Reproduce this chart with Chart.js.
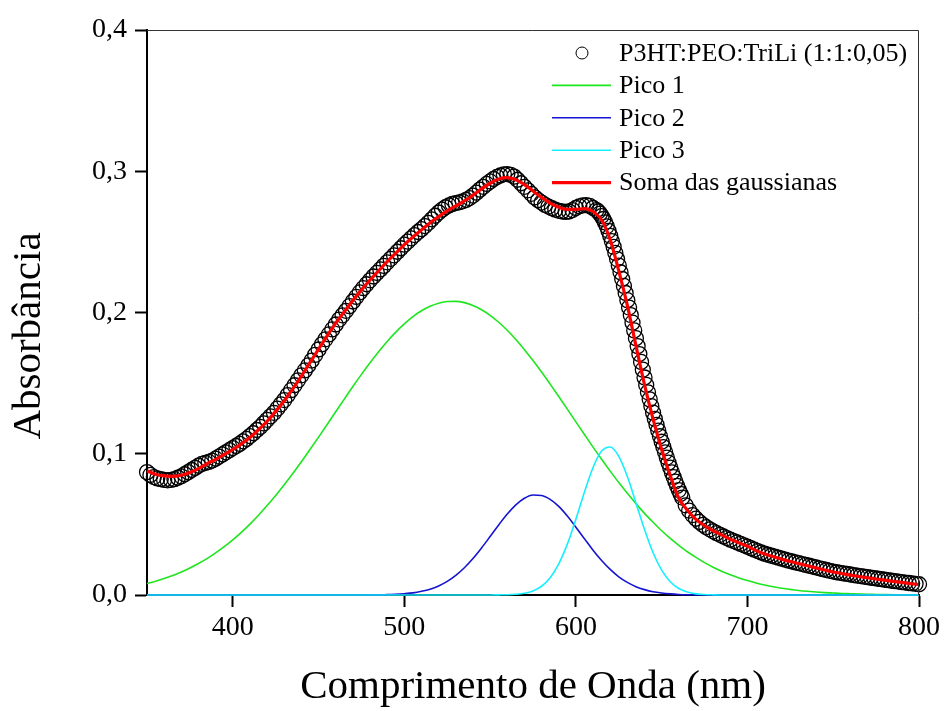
<!DOCTYPE html>
<html>
<head>
<meta charset="utf-8">
<script src="https://cdn.jsdelivr.net/npm/chart.js@4.4.0/dist/chart.umd.min.js"></script>
<style>
  html, body { margin: 0; padding: 0; background: #fff; }
</style>
</head>
<body>
<canvas id="myChart" width="944" height="711"></canvas>
<script>
// Measured spectrum (nm) - 2 nm steps, 1 nm across the steep edge
const wavelengths = [
  350,352,354,356,358,360,362,364,366,368,370,372,374,376,378,380,382,384,386,388,
  390,392,394,396,398,400,402,404,406,408,410,412,414,416,418,420,422,424,426,428,
  430,432,434,436,438,440,442,444,446,448,450,452,454,456,458,460,462,464,466,468,
  470,472,474,476,478,480,482,484,486,488,490,492,494,496,498,500,502,504,506,508,
  510,512,514,516,518,520,522,524,526,528,530,532,534,536,538,540,542,544,546,548,
  550,552,554,556,558,560,562,564,566,568,570,572,574,576,578,580,582,584,586,588,
  590,592,594,596,598,600,602,604,606,608,610,612,
  613,614,615,616,617,618,619,620,621,622,623,624,625,626,627,628,629,630,631,632,
  633,634,635,636,637,638,639,640,641,642,643,644,645,646,647,648,649,650,651,652,
  653,654,655,656,657,658,659,660,661,662,
  664,666,668,670,672,674,676,678,680,682,684,686,688,690,692,694,696,698,700,702,
  704,706,708,710,712,714,716,718,720,722,724,726,728,730,732,734,736,738,740,742,
  744,746,748,750,752,754,756,758,760,762,764,766,768,770,772,774,776,778,780,782,
  784,786,788,790,792,794,796,798,800
];
const absorbance = [
  0.087,0.085,0.0835,0.0825,0.082,0.0815,0.0812,0.0815,0.082,0.083,0.084,0.0855,0.087,0.0885,0.09,0.0915,0.0928,0.0935,0.0942,0.0952,
  0.0965,0.098,0.0995,0.101,0.1025,0.104,0.1055,0.107,0.1088,0.1105,0.1125,0.1145,0.1168,0.119,0.1215,0.124,0.1265,0.129,0.132,0.135,
  0.138,0.1415,0.145,0.1485,0.152,0.1555,0.159,0.1625,0.166,0.17,0.1738,0.1775,0.181,0.1845,0.188,0.1915,0.195,0.198,0.2012,0.2045,
  0.2078,0.211,0.2142,0.2172,0.22,0.2228,0.2255,0.228,0.2305,0.233,0.2355,0.238,0.2405,0.243,0.2455,0.248,0.2502,0.2525,0.2548,0.257,
  0.259,0.2612,0.2635,0.266,0.2685,0.2708,0.2728,0.2745,0.2758,0.2768,0.2775,0.278,0.2787,0.2797,0.281,0.2828,0.2848,0.287,0.289,0.291,
  0.2928,0.2945,0.296,0.297,0.2978,0.298,0.2975,0.2962,0.294,0.2915,0.289,0.2865,0.284,0.2815,0.2795,0.2778,0.2762,0.275,0.2738,0.2728,
  0.272,0.2715,0.2712,0.2715,0.2725,0.274,0.2752,0.2758,0.276,0.2755,0.274,0.2725,
  0.2715,0.27,0.2683,0.2662,0.2638,0.261,0.2578,0.2543,0.2505,0.2465,0.2422,0.2378,0.2332,0.2285,0.2237,0.2188,0.2138,0.2087,0.2035,0.1982,
  0.1928,0.1873,0.1818,0.1762,0.1706,0.165,0.1595,0.154,0.1487,0.1435,0.1385,0.1337,0.1291,0.1247,0.1205,0.1164,0.1124,0.1085,0.1047,0.101,
  0.0973,0.0937,0.0902,0.0868,0.0835,0.0803,0.0772,0.0743,0.0716,0.069,
  0.0635,0.0598,0.0566,0.054,0.0517,0.0497,0.048,0.0465,0.0451,0.0438,0.0426,0.0414,0.0403,0.0392,0.0382,0.0372,0.0362,0.0352,0.0342,0.0331,
  0.0321,0.0311,0.0301,0.0292,0.0285,0.0278,0.0271,0.0264,0.0257,0.025,0.0243,0.0237,0.0231,0.0225,0.0219,0.0213,0.0207,0.0201,0.0195,0.0189,
  0.0183,0.0177,0.0171,0.0166,0.0161,0.0157,0.0153,0.0149,0.0145,0.0141,0.0137,0.0134,0.013,0.0126,0.0122,0.0119,0.0115,0.0112,0.0108,0.0105,
  0.0101,0.0098,0.0095,0.0091,0.0088,0.0085,0.0082,0.0079,0.0076
];

// Fitted curves on a 5 nm grid
const fitNm = [
  350,355,360,365,370,375,380,385,390,395,400,405,410,415,420,425,430,435,440,445,
  450,455,460,465,470,475,480,485,490,495,500,505,510,515,520,525,530,535,540,545,
  550,555,560,565,570,575,580,585,590,595,600,605,610,615,620,625,630,635,640,645,
  650,655,660,665,670,675,680,685,690,695,700,705,710,715,720,725,730,735,740,745,
  750,755,760,765,770,775,780,785,790,795,800
];
const pico1 = [
  0.0082,0.0098,0.0117,0.0138,0.0163,0.0191,0.0223,0.0258,0.0298,0.0342,0.0391,0.0444,0.0502,0.0565,0.0633,0.0705,0.0781,0.086,0.0944,0.103,
  0.1118,0.1207,0.1297,0.1387,0.1476,0.1562,0.1644,0.1722,0.1795,0.1861,0.192,0.1971,0.2012,0.2044,0.2066,0.2078,0.2079,0.207,0.205,0.2019,
  0.198,0.1931,0.1874,0.1809,0.1737,0.166,0.1579,0.1493,0.1405,0.1316,0.1226,0.1136,0.1047,0.0961,0.0877,0.0796,0.072,0.0647,0.0578,0.0515,
  0.0455,0.0401,0.0352,0.0306,0.0266,0.0229,0.0197,0.0168,0.0143,0.0121,0.0102,0.0085,0.0071,0.0059,0.0048,0.004,0.0032,0.0026,0.0021,0.0017,
  0.0014,0.0011,0.0009,0.0007,0.0005,0.0004,0.0003,0.0002,0.0002,0.0001,0.0001
];
const pico2 = [
  0,0,0,0,0,0,0,0,0,0,0,0,0,0,0,0,0,0,0,0,
  0,0,0,0,0,0,0.0001,0.0001,0.0003,0.0005,0.0009,0.0015,0.0026,0.0041,0.0064,0.0096,0.0139,0.0193,0.0258,0.0333,
  0.0414,0.0496,0.0573,0.0638,0.0685,0.0708,0.0705,0.0677,0.0627,0.0559,0.048,0.0398,0.0317,0.0244,0.0181,0.0129,0.0089,0.0059,0.0038,0.0023,
  0.0014,0.0008,0.0004,0.0002,0.0001,0,0,0,0,0,0,0,0,0,0,0,0,0,0,0,
  0,0,0,0,0,0,0,0,0,0,0
];
const pico3 = [
  0,0,0,0,0,0,0,0,0,0,0,0,0,0,0,0,0,0,0,0,
  0,0,0,0,0,0,0,0,0,0,0,0,0,0,0,0,0,0,0,0,
  0,0.0001,0.0002,0.0005,0.0012,0.0029,0.0062,0.0122,0.022,0.036,0.0537,0.0729,0.0903,0.1019,0.1048,0.0982,0.0839,0.0652,0.0463,0.0299,
  0.0176,0.0094,0.0046,0.0021,0.0008,0.0003,0.0001,0,0,0,0,0,0,0,0,0,0,0,0,0,
  0,0,0,0,0,0,0,0,0,0,0
];
const somaGauss = [
  0.088,0.0855,0.0843,0.084,0.0848,0.0868,0.0895,0.093,0.096,0.0995,0.103,0.107,0.1115,0.117,0.123,0.13,0.1375,0.146,0.155,0.1645,
  0.174,0.1835,0.1925,0.2005,0.2085,0.216,0.223,0.2295,0.236,0.242,0.248,0.2535,0.2585,0.2635,0.268,0.272,0.2755,0.279,0.283,0.2875,
  0.2915,0.2945,0.2955,0.294,0.2905,0.286,0.2815,0.2775,0.2745,0.273,0.273,0.2735,0.2715,0.2655,0.2515,0.2295,0.205,0.1765,0.149,0.1245,
  0.103,0.0845,0.0685,0.06,0.0535,0.049,0.0455,0.0425,0.0395,0.037,0.0345,0.0315,0.029,0.0272,0.0254,0.0237,0.0222,0.0207,0.0192,0.0177,
  0.0163,0.0152,0.0141,0.0131,0.0122,0.0113,0.0105,0.0097,0.0089,0.0081,0.0074
];

const seriesLabels = ['P3HT:PEO:TriLi (1:1:0,05)', 'Pico 1', 'Pico 2', 'Pico 3', 'Soma das gaussianas'];

const toPoints = (xs, ys) => xs.map((x, i) => ({ x: x, y: ys[i] }));
const serif = 'Liberation Serif';

// legend box in the upper right corner, axis titles and the thin top/right frame
const framePlugin = {
  id: 'frame',
  afterDraw(chart) {
    const c = chart.ctx;
    const a = chart.chartArea;
    c.save();
    c.strokeStyle = '#333';
    c.lineWidth = 1;
    c.beginPath();
    c.moveTo(a.left, a.top + 0.5);
    c.lineTo(a.right - 0.5, a.top + 0.5);
    c.lineTo(a.right - 0.5, a.bottom);
    c.stroke();

    c.fillStyle = '#000';
    c.font = '41px "' + serif + '"';
    c.textAlign = 'center';
    c.textBaseline = 'middle';
    c.fillText('Comprimento de Onda (nm)', (a.left + a.right) / 2, 687);
    c.save();
    c.translate(29, 336);
    c.rotate(-Math.PI / 2);
    c.fillText('Absorbância', 0, 0);
    c.restore();

    // legend
    c.font = '26px "' + serif + '"';
    c.textAlign = 'left';
    chart.data.datasets.forEach((ds, i) => {
      const y = 53 + i * 32.4;
      if (ds.showLine === false) {
        c.beginPath();
        c.arc(582, y, 6, 0, Math.PI * 2);
        c.lineWidth = 1;
        c.strokeStyle = '#000';
        c.stroke();
      } else {
        c.beginPath();
        c.moveTo(552, y);
        c.lineTo(611, y);
        c.lineWidth = ds.borderWidth;
        c.strokeStyle = ds.borderColor;
        c.stroke();
      }
      c.fillStyle = '#000';
      c.fillText(ds.label, 619, y + 1);
    });
    c.restore();
  }
};

const ctx = document.getElementById('myChart').getContext('2d');
const myChart = new Chart(ctx, {
  type: 'line',
  data: {
    datasets: [
      {
        label: seriesLabels[0],
        data: toPoints(wavelengths, absorbance),
        showLine: false,
        pointRadius: 7.5,
        pointBorderWidth: 1.3,
        pointBorderColor: '#000',
        pointBackgroundColor: 'rgba(0,0,0,0)',
        borderColor: '#000',
        order: 5,
        clip: false
      },
      {
        label: seriesLabels[1],
        data: toPoints(fitNm, pico1),
        borderColor: '#1ee61e',
        borderWidth: 1.6,
        pointRadius: 0,
        cubicInterpolationMode: 'monotone',
        order: 4,
        clip: false
      },
      {
        label: seriesLabels[2],
        data: toPoints(fitNm, pico2),
        borderColor: '#1414d2',
        borderWidth: 1.6,
        pointRadius: 0,
        cubicInterpolationMode: 'monotone',
        order: 3,
        clip: false
      },
      {
        label: seriesLabels[3],
        data: toPoints(fitNm, pico3),
        borderColor: '#14f0ff',
        borderWidth: 1.6,
        pointRadius: 0,
        cubicInterpolationMode: 'monotone',
        order: 2,
        clip: false
      },
      {
        label: seriesLabels[4],
        data: toPoints(fitNm, somaGauss),
        borderColor: '#ff0000',
        borderWidth: 3.2,
        pointRadius: 0,
        cubicInterpolationMode: 'monotone',
        order: 1,
        clip: false
      }
    ]
  },
  options: {
    responsive: false,
    animation: false,
    events: [],
    layout: { padding: { left: 0, top: 30, right: 24, bottom: 0 } },
    plugins: {
      legend: { display: false },
      tooltip: { enabled: false }
    },
    scales: {
      x: {
        type: 'linear',
        min: 350,
        max: 800,
        ticks: {
          stepSize: 100,
          includeBounds: false,
          maxRotation: 0,
          padding: 4,
          color: '#000',
          font: { family: serif, size: 28 }
        },
        grid: { drawOnChartArea: false, tickLength: 12, tickWidth: 2, tickColor: '#000' },
        border: { color: '#000', width: 2 },
        afterFit: (scale) => { scale.height = 116; }
      },
      y: {
        min: 0,
        max: 0.4,
        ticks: {
          stepSize: 0.1,
          padding: 8,
          color: '#000',
          font: { family: serif, size: 28 },
          callback: (v) => v.toFixed(1).replace('.', ',')
        },
        grid: { drawOnChartArea: false, tickLength: 12, tickWidth: 2, tickColor: '#000' },
        border: { color: '#000', width: 2 },
        afterFit: (scale) => { scale.width = 147; }
      }
    }
  },
  plugins: [framePlugin]
});
</script>
</body>
</html>
